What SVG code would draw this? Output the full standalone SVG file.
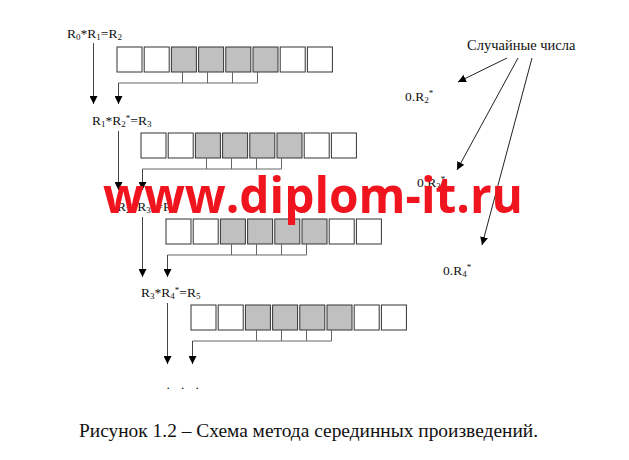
<svg xmlns="http://www.w3.org/2000/svg" width="629" height="460" viewBox="0 0 629 460">
<style>
.bg{fill:#fff}
.box{fill:#fff;stroke:#333;stroke-width:1}
.box.g{fill:#c0c0c0}
.ln{fill:none;stroke:#666;stroke-width:1}
.ar{fill:none;stroke:#444;stroke-width:1;marker-end:url(#ah)}
.ar2{fill:none;stroke:#222;stroke-width:1;marker-end:url(#ah)}
.lbl{font-family:"Liberation Serif","Times New Roman",serif;font-size:13.5px;fill:#111}
.sub{font-size:9px}
.cap{font-family:"Liberation Serif","Times New Roman",serif;font-size:19px;fill:#111}
.wm{font-family:"Open Sans","DejaVu Sans",sans-serif;font-weight:700;font-size:51px;fill:#f0141e}
</style>
<defs>
<marker id="ah" viewBox="0 0 8 8" refX="8" refY="4" markerWidth="8" markerHeight="8" markerUnits="userSpaceOnUse" orient="auto">
<path d="M0,0 L8,4 L0,8 z" fill="#000"/>
</marker>
</defs>
<rect class="bg" x="0" y="0" width="629" height="460"/>

<g id="row1">
<text class="lbl" x="67" y="38">R<tspan class="sub" dy="2">0</tspan><tspan dy="-2">*R</tspan><tspan class="sub" dy="2">1</tspan><tspan dy="-2">=R</tspan><tspan class="sub" dy="2">2</tspan></text>
<rect class="box" x="117" y="47" width="25" height="25"/>
<rect class="box" x="144.2" y="47" width="25" height="25"/>
<rect class="box g" x="171.4" y="47" width="25" height="25"/>
<rect class="box g" x="198.6" y="47" width="25" height="25"/>
<rect class="box g" x="225.8" y="47" width="25" height="25"/>
<rect class="box g" x="253" y="47" width="25" height="25"/>
<rect class="box" x="280.2" y="47" width="25" height="25"/>
<rect class="box" x="307.4" y="47" width="25" height="25"/>
</g>

<g id="row2">
<text class="lbl" x="92" y="125">R<tspan class="sub" dy="2">1</tspan><tspan dy="-2">*R</tspan><tspan class="sub" dy="2">2</tspan><tspan class="sub" dy="-6">*</tspan><tspan dy="4">=R</tspan><tspan class="sub" dy="2">3</tspan></text>
<rect class="box" x="141" y="133" width="25" height="25"/>
<rect class="box" x="168.2" y="133" width="25" height="25"/>
<rect class="box g" x="195.4" y="133" width="25" height="25"/>
<rect class="box g" x="222.6" y="133" width="25" height="25"/>
<rect class="box g" x="249.8" y="133" width="25" height="25"/>
<rect class="box g" x="277" y="133" width="25" height="25"/>
<rect class="box" x="304.2" y="133" width="25" height="25"/>
<rect class="box" x="331.4" y="133" width="25" height="25"/>
</g>

<g id="row3">
<text class="lbl" x="117" y="211">R<tspan class="sub" dy="2">2</tspan><tspan dy="-2">*R</tspan><tspan class="sub" dy="2">3</tspan><tspan class="sub" dy="-6">*</tspan><tspan dy="4">=R</tspan><tspan class="sub" dy="2">4</tspan></text>
<rect class="box" x="166" y="219" width="25" height="25"/>
<rect class="box" x="193.2" y="219" width="25" height="25"/>
<rect class="box g" x="220.4" y="219" width="25" height="25"/>
<rect class="box g" x="247.6" y="219" width="25" height="25"/>
<rect class="box g" x="274.8" y="219" width="25" height="25"/>
<rect class="box g" x="302" y="219" width="25" height="25"/>
<rect class="box" x="329.2" y="219" width="25" height="25"/>
<rect class="box" x="356.4" y="219" width="25" height="25"/>
</g>

<g id="row4">
<text class="lbl" x="141" y="297">R<tspan class="sub" dy="2">3</tspan><tspan dy="-2">*R</tspan><tspan class="sub" dy="2">4</tspan><tspan class="sub" dy="-6">*</tspan><tspan dy="4">=R</tspan><tspan class="sub" dy="2">5</tspan></text>
<rect class="box" x="191" y="305" width="25" height="25"/>
<rect class="box" x="218.2" y="305" width="25" height="25"/>
<rect class="box g" x="245.4" y="305" width="25" height="25"/>
<rect class="box g" x="272.6" y="305" width="25" height="25"/>
<rect class="box g" x="299.8" y="305" width="25" height="25"/>
<rect class="box g" x="327" y="305" width="25" height="25"/>
<rect class="box" x="354.2" y="305" width="25" height="25"/>
<rect class="box" x="381.4" y="305" width="25" height="25"/>
</g>

<g id="dots">
<text class="lbl" x="166.5 181 195.5" y="389">...</text>
</g>

<g id="random">
<text class="lbl" x="467" y="50" style="font-size:14.5px">Случайные числа</text>
<text class="lbl" x="405" y="101">0.R<tspan class="sub" dy="2">2</tspan><tspan class="sub" dy="-7">*</tspan></text>
<text class="lbl" x="417" y="187">0.R<tspan class="sub" dy="2">3</tspan><tspan class="sub" dy="-7">*</tspan></text>
<text class="lbl" x="443" y="275">0.R<tspan class="sub" dy="2">4</tspan><tspan class="sub" dy="-7">*</tspan></text>
</g>

<g id="connectors">
<!-- row 1 -->
<path class="ln" d="M182.5,72V83M207.5,72V83M232.5,72V83M257.5,72V83M118.5,83H257.5"/>
<path class="ar" d="M118.5,83V104"/>
<path class="ar" d="M93.5,43V104"/>
<!-- row 2 -->
<path class="ln" d="M206.5,158V169M231.5,158V169M256.5,158V169M281.5,158V169M142.5,169H281.5"/>
<path class="ar" d="M142.5,169V190"/>
<path class="ar" d="M118.5,131V190"/>
<!-- row 3 -->
<path class="ln" d="M231.5,244V255M256.5,244V255M281.5,244V255M306.5,244V255M167.5,255H306.5"/>
<path class="ar" d="M167.5,255V277"/>
<path class="ar" d="M142.5,217V277"/>
<!-- row 4 -->
<path class="ln" d="M256.5,330V341M281.5,330V341M306.5,330V341M331.5,330V341M192.5,341H331.5"/>
<path class="ar" d="M192.5,341V364"/>
<path class="ar" d="M167.5,303V364"/>
<!-- random numbers -->
<path class="ar2" d="M507,58L458,82"/>
<path class="ar2" d="M518,58L457,170"/>
<path class="ar2" d="M532,58L482,245"/>
</g>

<g id="caption">
<text class="cap" x="79" y="437" textLength="459" lengthAdjust="spacingAndGlyphs">Рисунок 1.2 – Схема метода серединных произведений.</text>
</g>

<g id="watermark">
<text class="wm" x="103" y="213" textLength="420" lengthAdjust="spacingAndGlyphs">www.diplom-it.ru</text>
</g>
</svg>
